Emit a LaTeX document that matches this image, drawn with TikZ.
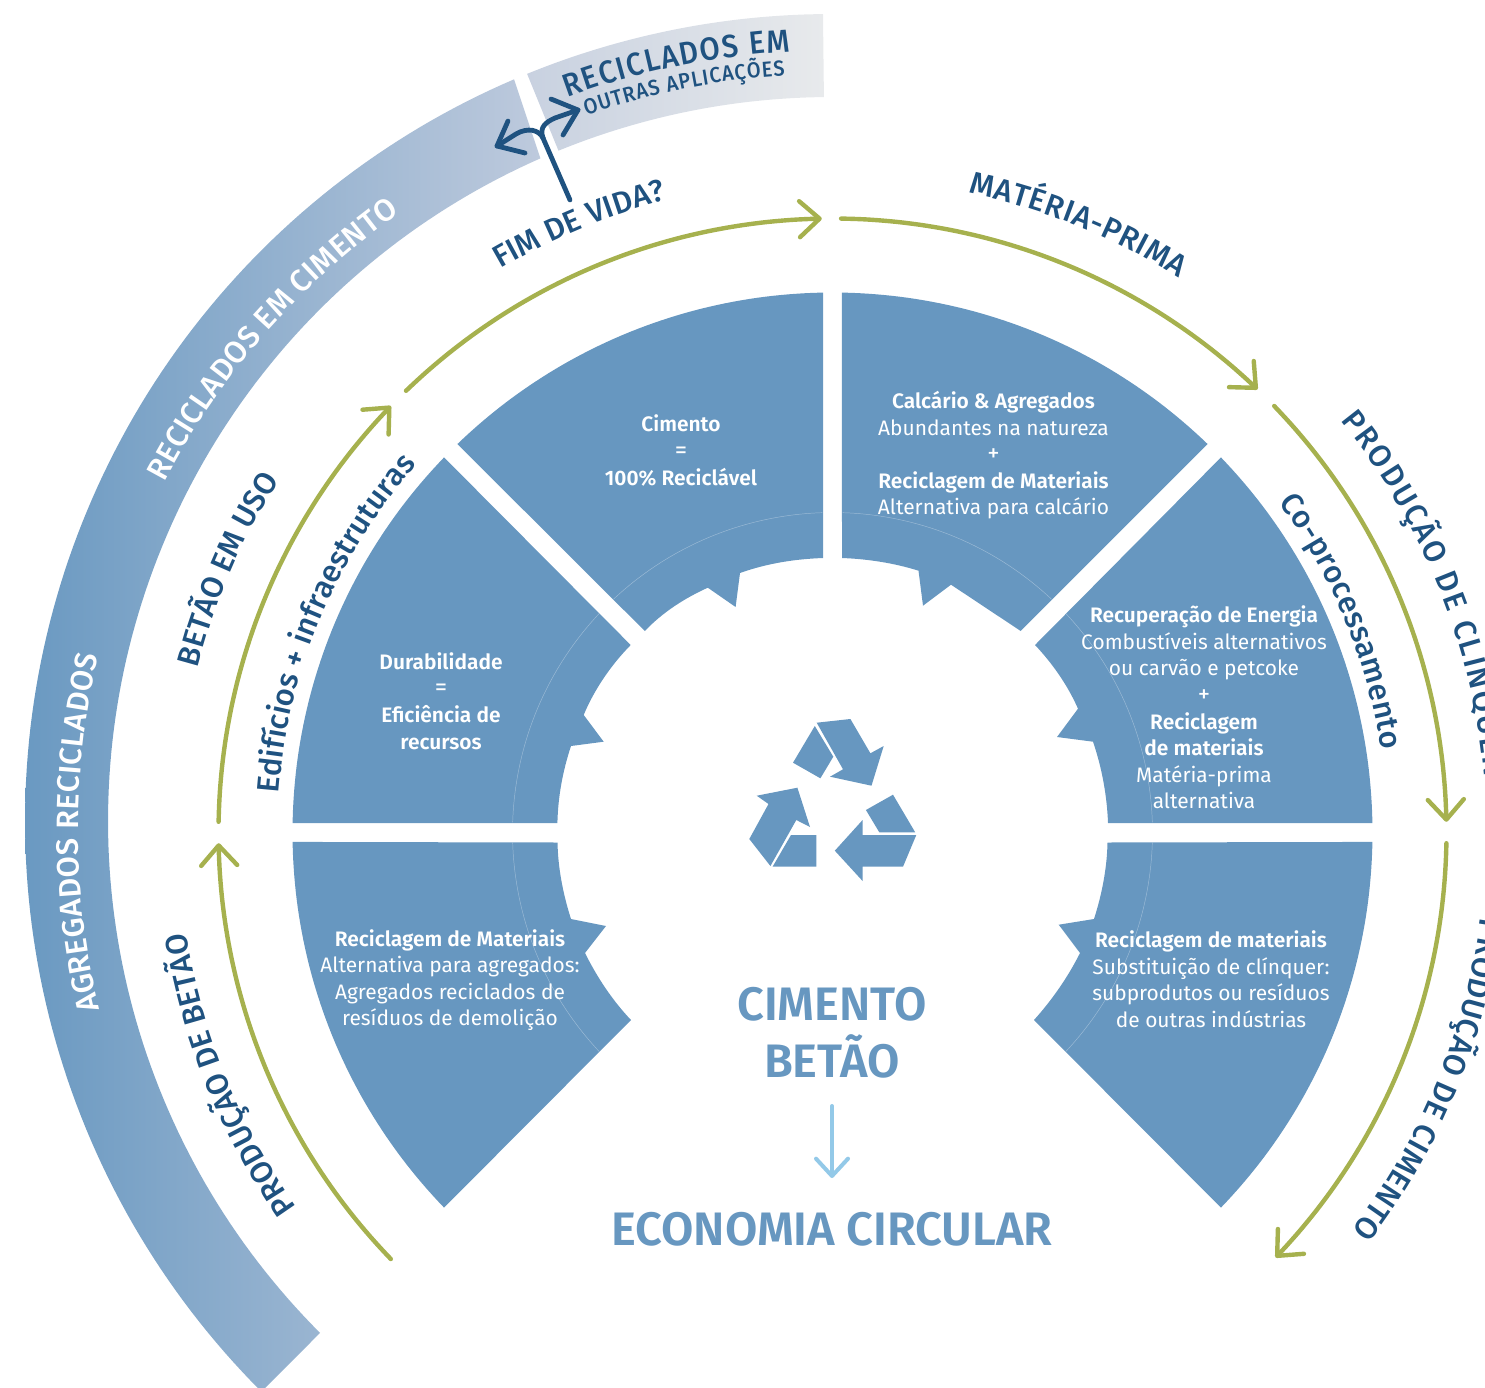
\documentclass[tikz,border=0pt]{standalone}
\usepackage{fontspec}
\usepackage{tikz}
\usetikzlibrary{arrows.meta,decorations.text}
\setmainfont{Fira Sans}[BoldFont={Fira Sans SemiBold}]
\newfontfamily\labfont{Fira Sans Medium}
\newfontfamily\narrowfont{Fira Sans Medium}[FakeStretch=0.92]
\definecolor{sec}{HTML}{6797C0}
\definecolor{grn}{HTML}{A6B14E}
\definecolor{dk}{HTML}{1F5280}
\definecolor{lb}{HTML}{93C9E8}
\tikzset{
  declare function={px(\r,\a)=832.5+\r*cos(\a); py(\r,\a)=832.5-\r*sin(\a);
                    qx(\r,\a)=832+\r*cos(\a); qy(\r,\a)=821-\r*sin(\a);
                    tx(\r,\a)=832+\r*cos(\a); ty(\r,\a)=830-\r*sin(\a);},
  sector/.style={fill=sec},
  ring/.style={draw=white,draw opacity=.35,line width=.35pt},
  garc/.style={draw=grn,line width=3.3pt,line cap=round,-{Straight Barb[length=15pt,width=27pt,line width=3.3pt,round]}},
  body/.style={text=white,align=center,font=\fontsize{15.7}{19.9}\selectfont,inner sep=0pt},
  big/.style={text=sec,font=\fontsize{35.2}{40}\selectfont\bfseries,inner sep=0pt},
  dkline/.style={draw=dk,line width=3.6pt,line cap=round,line join=round},
}
% #1 centre fn prefix, #2 radius, #3 from, #4 to, #5 format, #6 text
\newcommand{\arctext}[6]{\path[decorate,decoration={text along path,text align={fit to path},text={|#5|#6}}]
  plot[domain=#3:#4,samples=90] ({#1x(#2,\x)},{#1y(#2,\x)});}
\newcommand{\lab}{\labfont\fontsize{23.2}{28}\selectfont\color{dk}}
\newcommand{\sym}[1]{{\fontsize{18.5}{19.9}\selectfont #1}}
\begin{document}
\begin{tikzpicture}[x=.75pt,y=-.75pt]
\useasboundingbox (0,0) rectangle (1485,1388);
\clip (0,0) rectangle (1485,1388);
% outer bands
\shade[left color=sec!98!white,right color={rgb,255:red,190;green,202;blue,221}]
  plot[domain=225:113.2,samples=120] ({qx(807,\x)},{qy(807,\x)}) --
  plot[domain=113.75:225,samples=120] ({qx(724,\x)},{qy(724,\x)}) -- cycle;
\shade[left color={rgb,255:red,200;green,209;blue,224},right color={rgb,255:red,232;green,234;blue,236}]
  plot[domain=112.2:90.64,samples=50] ({qx(807,\x)},{qy(807,\x)}) --
  plot[domain=90.64:112.2,samples=50] ({qx(724,\x)},{qy(724,\x)}) -- cycle;
% sectors
\fill[sector] plot[domain=89:46,samples=50] ({px(540,\x)},{py(540,\x)}) -- (1020.7,631) -- (951,584.7) -- (923,605.7) -- (918.5,570.7)
  .. controls (894,563) and (868,559) .. (842,558) -- cycle;
\fill[sector] plot[domain=44:1,samples=50] ({px(540,\x)},{py(540,\x)}) -- (1108,823)
  .. controls (1107,796) and (1102,768) .. (1093,741.7) -- (1057,737) -- (1078,708.7)
  .. controls (1068,686) and (1053,664) .. (1035,645) -- cycle;
\fill[sector] plot[domain=-1:-44,samples=50] ({px(540,\x)},{py(540,\x)}) -- (1034,1020)
  .. controls (1052,1000) and (1068,977) .. (1080,953) -- (1058.7,924.7) -- (1094,919)
  .. controls (1102,894) and (1107,868) .. (1107.5,842.5) -- cycle;
\fill[sector] plot[domain=91:134,samples=50] ({px(540,\x)},{py(540,\x)}) -- (644.8,631)
  .. controls (663,612) and (685,598) .. (707.8,587.7) -- (735.6,607) -- (740,573)
  .. controls (768,563) and (796,559) .. (823,558) -- cycle;
\fill[sector] plot[domain=136:179,samples=50] ({px(540,\x)},{py(540,\x)}) -- (557.4,823)
  .. controls (558,796) and (563,770) .. (571,746) -- (603.7,741.7) -- (583.7,715)
  .. controls (594,690) and (611,665) .. (630.7,645) -- cycle;
\fill[sector] plot[domain=181:224,samples=50] ({px(540,\x)},{py(540,\x)}) -- (631,1020)
  .. controls (612,1000) and (597,977) .. (585,953) -- (606,926) -- (571,919)
  .. controls (563,894) and (558,868) .. (557.5,842.5) -- cycle;
% thin ring
\foreach \a/\b in {88.2/46.8,43.2/1.8,-1.8/-43.2,91.8/133.2,136.8/178.2,181.8/223.2}{
  \draw[ring] plot[domain=\a:\b,samples=40] ({px(320,\x)},{py(320,\x)});
}
% recycle symbol
\fill[sector] (814.8,726) -- (833.3,756.7) -- (820.4,778.3) -- (793,762.7) -- cycle;
\fill[sector] (816.7,722.7) -- (850.4,719) -- (870.4,753.3) -- (883.7,746) -- (871.5,785.7) -- (830,776.7) -- (843,769.3) -- cycle;
\fill[sector] (893,794.7) -- (915.2,832.3) -- (879.3,832.3) -- (865.9,810) -- cycle;
\fill[sector] (916.3,835) -- (903,866.7) -- (862.6,866.7) -- (862.6,881) -- (834.8,850.7) -- (862.6,820) -- (862.6,835) -- cycle;
\fill[sector] (797.4,787.7) -- (810,827) -- (796.3,820) -- (770.4,866) -- (749.3,839) -- (768.5,804) -- (756.7,795.7) -- cycle;
\fill[sector] (791,835) -- (816.3,835) -- (816.3,866.7) -- (772.6,866.7) -- cycle;
% green cycle arcs
\draw[garc] plot[domain=89.2:46.2,samples=60] ({px(614,\x)},{py(614,\x)});
\draw[garc] plot[domain=44:1,samples=60] ({px(614,\x)},{py(614,\x)});
\draw[garc] plot[domain=-1:-43.8,samples=60] ({px(614,\x)},{py(614,\x)});
\draw[garc] plot[domain=224:181,samples=60] ({px(614,\x)},{py(614,\x)});
\draw[garc] plot[domain=179:136,samples=60] ({px(614,\x)},{py(614,\x)});
\draw[garc] plot[domain=134:91,samples=60] ({px(614,\x)},{py(614,\x)});
% fork arrow
\coordinate (fstem) at (570,200);
\coordinate (ffork) at (543,138);
\coordinate (fl) at (497,146);
\coordinate (fr) at (578,110);
\draw[dkline] (fstem) -- (ffork);
\draw[dkline] (ffork) .. controls (539,130) and (528,127) .. (516,134) -- (fl);
\draw[dkline] (ffork) .. controls (539,127) and (546,122) .. (555,118) -- (fr);
\draw[dkline] (508,121) -- (fl) -- (525,153);
\draw[dkline] (551,99) -- (fr) -- (563,135);
% curved labels
\arctext{q}{770.5}{110.1}{93.1}{\narrowfont\fontsize{24}{29}\selectfont\color{dk}}{RECICLADOS EM}
\arctext{q}{747}{109.2}{93.6}{\narrowfont\fontsize{16.3}{20}\selectfont\color{dk}}{OUTRAS APLICAÇÕES}
\arctext{t}{754}{193.8}{166.6}{\labfont\fontsize{23.2}{28}\selectfont\color{white}}{AGREGADOS RECICLADOS}
\arctext{t}{753}{152.5}{125}{\labfont\fontsize{23.2}{28}\selectfont\color{white}}{RECICLADOS EM CIMENTO}
\arctext{p}{654}{120.5}{104.7}{\lab}{FIM DE VIDA?}
\arctext{p}{654}{78}{58}{\lab}{MATÉRIA-PRIMA}
\arctext{p}{654}{39}{5}{\lab}{PRODUÇÃO DE CLÍNQUER}
\arctext{p}{654}{-7.5}{-37.5}{\lab}{PRODUÇÃO DE CIMENTO}
\arctext{p}{654}{215}{188.8}{\lab}{PRODUÇÃO DE BETÃO}
\arctext{p}{656}{165.5}{148.2}{\lab}{BETÃO EM USO}
\arctext{p}{555}{176}{139}{\lab}{Edifícios + infraestruturas}
\arctext{p}{555}{36.5}{8.5}{\lab}{Co-processamento}
% sector texts
\node[body] (t1) at (681,450.5) {\textbf{Cimento}\\\sym{=}\\\textbf{100\% Reciclável}};
\node[body] (t2) at (993.5,455.5) {\textbf{Calcário \& Agregados}\\Abundantes na natureza\\\sym{+}\\\textbf{Reciclagem de Materiais}\\Alternativa para calcário};
\node[body] (t3) at (1204,707.5) {\textbf{Recuperação de Energia}\\Combustíveis alternativos\\ou carvão e petcoke\\\sym{+}\\\textbf{Reciclagem}\\\textbf{de materiais}\\Matéria-prima\\alternativa};
\node[body] (t4) at (441,701) {\textbf{Durabilidade}\\\sym{=}\\\textbf{Eficiência de}\\\textbf{recursos}};
\node[body] (t5) at (450,980) {\textbf{Reciclagem de Materiais}\\Alternativa para agregados:\\Agregados reciclados de\\resíduos de demolição};
\node[body] (t6) at (1211,979) {\textbf{Reciclagem de materiais}\\Substituição de clínquer:\\subprodutos ou resíduos\\de outras indústrias};
% centre texts
\node[big] (c1) at (832,1004) {CIMENTO};
\node[big] (c2) at (832,1056) {BETÃO};
\node[big] (c3) at (832,1229) {ECONOMIA CIRCULAR};
\coordinate (astart) at (832,1106);
\coordinate (aend) at (832,1178);
\draw[lb,line width=3pt,line cap=round,-{Straight Barb[length=13pt,width=24pt,line width=3pt,round]}] (astart) -- (aend);
\end{tikzpicture}
\end{document}
